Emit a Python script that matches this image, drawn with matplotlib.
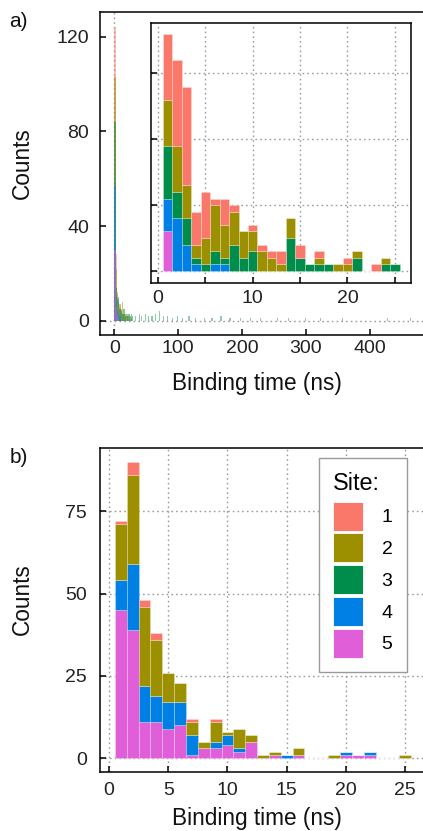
import matplotlib
matplotlib.use('Agg')
import matplotlib.pyplot as plt
from matplotlib.patches import Patch

plt.rcParams['font.family'] = ['Liberation Sans', 'DejaVu Sans']

W, H = 423, 831

# ---------------- data ----------------
sites = ['1', '2', '3', '4', '5']
colors = ['#FA786A', '#9C8F00', '#008C4B', '#0080E5', '#E05FD8']

# inset of panel a / panel b : 1-ns bins centred on 1..25 ns
bin_centers = [1, 2, 3, 4, 5, 6, 7, 8, 9, 10, 11, 12, 13, 14, 15, 16, 17, 18, 19, 20, 21, 22, 23, 24, 25]

ins_site1 = [10, 13, 15, 5, 7, 1, 4, 1, 0, 1, 1, 1, 2, 0, 2, 0, 1, 0, 0, 1, 0, 0, 1, 0, 0]
ins_site2 = [7, 7, 5, 2, 4, 7, 5, 5, 4, 3, 3, 2, 1, 3, 0, 0, 1, 0, 1, 1, 1, 0, 0, 1, 0]
ins_site3 = [8, 4, 4, 1, 1, 2, 1, 4, 2, 3, 0, 0, 0, 5, 2, 1, 1, 1, 0, 0, 2, 0, 0, 1, 1]
ins_site4 = [5, 8, 4, 1, 0, 1, 1, 0, 0, 0, 0, 0, 0, 0, 0, 0, 0, 0, 0, 0, 0, 0, 0, 0, 0]
ins_site5 = [6, 0, 0, 0, 0, 0, 0, 0, 0, 0, 0, 0, 0, 0, 0, 0, 0, 0, 0, 0, 0, 0, 0, 0, 0]

b_site1 = [1, 4, 2, 2, 0, 0, 1, 0, 1, 0, 0, 0, 0, 0, 0, 0, 0, 0, 0, 0, 0, 0, 0, 0, 0]
b_site2 = [17, 27, 24, 17, 9, 6, 4, 2, 6, 1, 6, 2, 1, 1, 0, 2, 0, 0, 1, 0, 0, 0, 0, 0, 1]
b_site3 = [0, 0, 0, 0, 0, 0, 0, 0, 0, 0, 0, 0, 0, 0, 0, 0, 0, 0, 0, 0, 0, 0, 0, 0, 0]
b_site4 = [9, 20, 11, 8, 8, 7, 6, 0, 2, 3, 1, 0, 0, 0, 1, 0, 0, 0, 0, 1, 0, 1, 0, 0, 0]
b_site5 = [45, 39, 11, 11, 9, 10, 1, 3, 3, 4, 2, 5, 0, 1, 0, 1, 0, 0, 0, 1, 1, 1, 0, 0, 0]

# main panel a : layered histograms, 2-ns bins (left edges)
main_left = [0, 2, 4, 6, 8, 10, 12, 14, 16, 18, 20, 22, 24, 26, 28]
main_site1 = [124, 28, 11, 9, 6, 4, 3, 3, 2, 0, 2, 0, 1, 0, 0]
main_site2 = [103, 22, 12, 8, 7, 5, 8, 3, 3, 2, 3, 2, 0, 1, 0]
main_site3 = [84, 14, 9, 10, 5, 4, 3, 5, 2, 3, 2, 3, 2, 3, 2]
main_site4 = [57, 10, 4, 3, 2, 0, 0, 0, 0, 0, 0, 0, 0, 0, 0]
main_site5 = [30, 6, 3, 1, 0, 0, 0, 0, 0, 0, 0, 0, 0, 0, 0]
# long tail of site 3 (left edges, counts)
tail_left = [32, 38, 42, 48, 52, 58, 64, 70, 76, 82, 90, 98, 106, 116, 126,
             140, 152, 166, 180, 196, 212, 228, 254, 272, 298, 322, 356, 426, 462]
tail_site3 = [2, 3, 2, 3, 2, 2, 3, 4, 2, 2, 1, 2, 1, 2, 1,
              1, 1, 2, 1, 1, 1, 1, 1, 1, 1, 1, 1, 1, 1]
main_width = 2

ins_data = [ins_site1, ins_site2, ins_site3, ins_site4, ins_site5]
b_data = [b_site1, b_site2, b_site3, b_site4, b_site5]
main_data = [main_site1, main_site2, main_site3, main_site4, main_site5]

# ---------------- figure ----------------
fig = plt.figure(figsize=(W / 100, H / 100), dpi=100)


def px_axes(l, t, r, b):
    return fig.add_axes([l / W, 1 - b / H, (r - l) / W, (b - t) / H])


GRID = dict(color='#9c9c9c', linestyle=(0, (1.2, 2.2)), linewidth=1.0)


def style(ax, pad_y, pad_x, labelsize=14):
    for s in ax.spines.values():
        s.set_linewidth(1.1)
        s.set_color('black')
    ax.tick_params(direction='in', length=4.2, width=1.1, color='black',
                   labelcolor='#222222', labelsize=labelsize)
    ax.tick_params(axis='y', pad=pad_y)
    ax.tick_params(axis='x', pad=pad_x)


def stacked(ax, data):
    bottom = [0] * len(bin_centers)
    for i in [4, 3, 2, 1, 0]:
        vals = data[i]
        ax.bar(bin_centers, vals, width=1.0, bottom=bottom, color=colors[i],
               edgecolor=(1, 1, 1, 0.35), linewidth=0.5, zorder=2)
        bottom = [b + v for b, v in zip(bottom, vals)]


# ---- panel a main ----
axa = px_axes(100, 12, 425, 335)
axa.set_xlim(-22.4, 486.2)
axa.set_ylim(-6.0, 130.4)
axa.axvline(0, zorder=0, **GRID)
axa.axhline(0, zorder=0, **GRID)
for i in range(5):
    axa.bar(main_left, main_data[i], width=main_width, align='edge',
            color=colors[i], alpha=0.5, linewidth=0, zorder=2)
axa.bar(tail_left, tail_site3, width=main_width, align='edge',
        color=colors[2], alpha=0.45, linewidth=0, zorder=2)
axa.set_xticks([0, 100, 200, 300, 400])
axa.set_yticks([0, 40, 80, 120])
style(axa, pad_y=7.7, pad_x=3.8)

# ---- inset ----
axi = px_axes(151, 23.3, 410.7, 282.7)
axi.set_xlim(-0.74, 26.68)
axi.set_ylim(-1.78, 37.6)
axi.set_axisbelow(True)
axi.grid(True, **GRID)
stacked(axi, ins_data)
axi.set_xticks([0, 5, 10, 15, 20, 25])
axi.set_xticklabels(['0', '', '10', '', '20', ''])
axi.set_yticks([0, 10, 20, 30])
axi.set_yticklabels([])
style(axi, pad_y=5, pad_x=5.3)

# ---- panel b ----
axb = px_axes(100.3, 448.3, 425, 772.3)
axb.set_xlim(-0.73, 26.67)
axb.set_ylim(-4.25, 94.1)
axb.set_axisbelow(True)
axb.grid(True, **GRID)
stacked(axb, b_data)
axb.set_xticks([0, 5, 10, 15, 20, 25])
axb.set_yticks([0, 25, 50, 75])
style(axb, pad_y=9.4, pad_x=6.8)

handles = [Patch(facecolor=c, edgecolor='white', linewidth=0.6) for c in colors]
leg = axb.legend(handles, sites, title='Site:', loc='upper left',
                 bbox_to_anchor=(319.3 / W, 1 - 457.5 / H), bbox_transform=fig.transFigure,
                 frameon=True, fancybox=False, framealpha=1, edgecolor='#9a9a9a',
                 fontsize=14, title_fontsize=16.8, handlelength=1.54, handleheight=1.92,
                 labelspacing=0.137, handletextpad=0.95, borderpad=0.72, borderaxespad=0,
                 alignment='left')
leg.get_frame().set_linewidth(1.0)
leg.set_zorder(5)
# a little more room between the title and the first entry
leg._legend_box.sep = 5.2

# ---- labels ----
LAB = dict(fontsize=16.3, color='#111111')
fig.text(256.5 / W, 1 - 390.5 / H, 'Binding time (ns)', ha='center', va='baseline', **LAB)
fig.text(256.5 / W, 1 - 825.5 / H, 'Binding time (ns)', ha='center', va='baseline', **LAB)
fig.text(29.3 / W, 1 - 163.3 / H, 'Counts', rotation=90, rotation_mode='anchor',
         ha='center', va='baseline', **LAB)
fig.text(29.3 / W, 1 - 599.2 / H, 'Counts', rotation=90, rotation_mode='anchor',
         ha='center', va='baseline', **LAB)
fig.text(9.5 / W, 1 - 26.7 / H, 'a)', ha='left', va='baseline', fontsize=15, color='#111111')
fig.text(9.5 / W, 1 - 463 / H, 'b)', ha='left', va='baseline', fontsize=15, color='#111111')

fig.savefig('out.png', dpi=100)
